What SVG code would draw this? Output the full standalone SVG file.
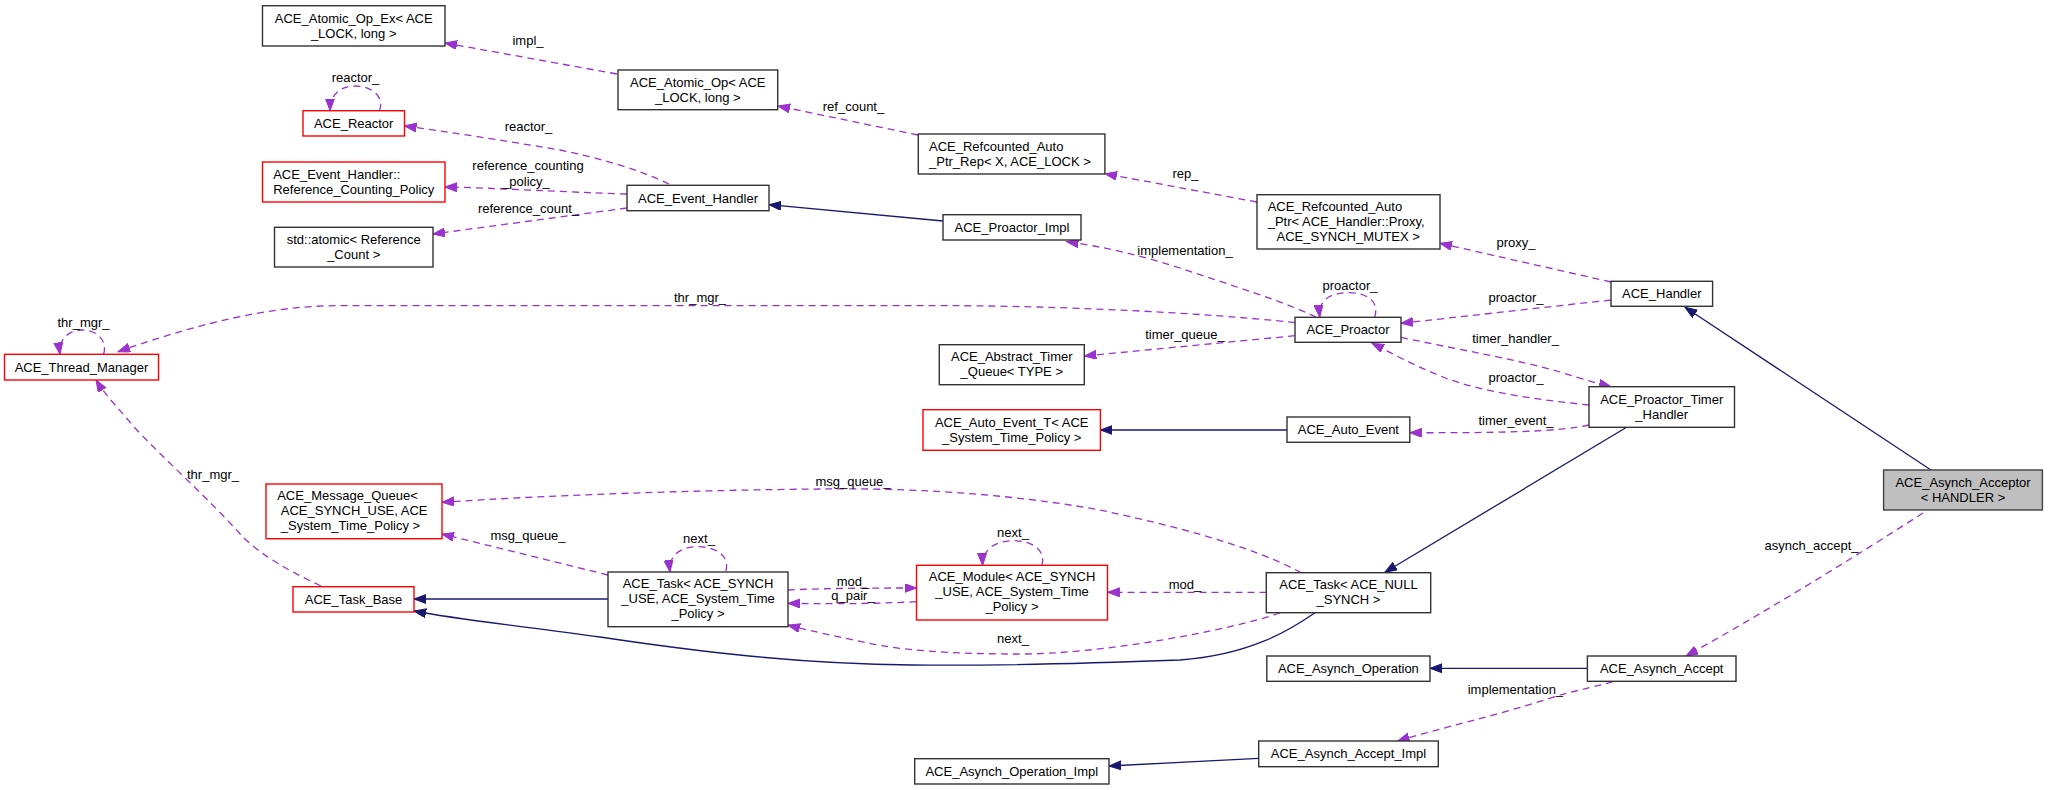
<svg xmlns="http://www.w3.org/2000/svg" width="2048" height="790" viewBox="0 0 2048 790">
<style>
text{font-family:"Liberation Sans",Arial,sans-serif;font-size:13px;fill:#000}
.n rect{fill:#fff;stroke:#333;stroke-width:1.4}
.r rect{fill:#fff;stroke:#ff0000;stroke-width:1.4}
.g rect{fill:#bfbfbf;stroke:#404040;stroke-width:1.4}
.c text{text-anchor:middle}
.l text{text-anchor:start}
.u{fill:none;stroke:#9a32cd;stroke-width:1.3;stroke-dasharray:7,5;marker-end:url(#ap)}
.i{fill:none;stroke:#191970;stroke-width:1.3;marker-end:url(#an)}
.lbl{text-anchor:middle}
</style>
<defs>
<marker id="ap" markerUnits="userSpaceOnUse" markerWidth="13" markerHeight="10" refX="12" refY="4.5" orient="auto"><path d="M0,0 L12,4.5 L0,9 z" fill="#9a32cd" stroke="#9a32cd" stroke-width="1"/></marker>
<marker id="an" markerUnits="userSpaceOnUse" markerWidth="13" markerHeight="10" refX="12" refY="4.5" orient="auto"><path d="M0,0 L12,4.5 L0,9 z" fill="#191970" stroke="#191970" stroke-width="1"/></marker>
</defs>
<rect width="2048" height="790" fill="#fff"/>
<g id="edges">
<path class="u" d="M617,74 L445,43"/>
<path class="u" d="M918,135 L778,106"/>
<path class="u" d="M1257,202 L1105,173.7"/>
<path class="u" d="M1611,282 L1440,243.3"/>
<path class="u" d="M379.5,110.7 C385,95 370,86 355,86 C340,86 330,95 330,110.7"/>
<path class="u" d="M669,184 C640,170 600,158 560,150 C500,140 450,132 404.5,126"/>
<path class="u" d="M627,194 C560,192 500,188 445,187"/>
<path class="u" d="M627,208 L433,234"/>
<path class="i" d="M943,221 L769,204.7"/>
<path class="u" d="M1316,317 C1280,300 1230,285 1180,268 C1140,255 1100,246 1066.5,241.7"/>
<path class="u" d="M1295,322.7 C1200,312 1050,306 957,305.7 L335,305.7 C260,306 180,330 118,351.7"/>
<path class="u" d="M1374.7,317.3 C1380,300 1365,292.7 1349,292.7 C1330,292.7 1318,300 1319.7,317"/>
<path class="u" d="M1295,335.7 L1084.4,356"/>
<path class="u" d="M1611,300 L1401,323.3"/>
<path class="u" d="M1401,337.3 C1460,350 1520,360 1560,372 C1585,380 1600,384 1611,386.7"/>
<path class="u" d="M1589,405 C1540,400 1480,392 1443,377 C1410,364 1390,352 1372,343.3"/>
<path class="u" d="M1589,425 C1560,431 1520,433 1409.8,432.7"/>
<path class="i" d="M1287,430 L1100.4,430"/>
<path class="u" d="M103.6,354.3 C108,340 96,330 82.6,330 C68,330 58,340 60,354.3"/>
<path class="u" d="M321,586 C280,567 255,550 241,535 C210,500 165,460 134,427 C120,410 105,395 96,380"/>
<path class="u" d="M608,575 L442,534"/>
<path class="i" d="M608,599 L414,599"/>
<path class="u" d="M726,571 C730,555 715,546.7 698,546.7 C680,546.7 668,556 670,572"/>
<path class="u" d="M788,590 C830,588 880,588 916.5,588"/>
<path class="u" d="M916.5,601.7 C870,604 830,604 788,603.3"/>
<path class="u" d="M1266.5,592.3 L1107.6,592.3"/>
<path class="u" d="M1301,572.7 C1250,545 1170,525 1100,510 C1000,492 900,488 823,489 C700,490 550,495 442,502.3"/>
<path class="u" d="M1280,613 C1230,630 1100,655 1015,654 C950,654 900,650 868,643 C840,637 810,631 788,625"/>
<path class="u" d="M1042,565.3 C1046,548 1030,540.7 1013,540.7 C995,540.7 982,550 982.6,565.3"/>
<path class="i" d="M1315,612.7 C1290,630 1250,655 1180,660 C1100,663 1000,666 912,665 C800,664 700,652 600,637 C530,627 460,620 414,611"/>
<path class="i" d="M1626.6,427.3 L1384.9,572.3"/>
<path class="i" d="M1931,470 L1685,307.3"/>
<path class="u" d="M1923,513 C1850,560 1760,615 1686,656"/>
<path class="i" d="M1587.4,668.3 L1430,668.3"/>
<path class="u" d="M1613,681.7 C1590,688 1570,692 1560,695 C1500,715 1440,728 1397.6,741"/>
<path class="i" d="M1258.7,758.3 L1109,766"/>
<g class="lbl">
<text x="528" y="45">impl_</text>
<text x="853.5" y="111">ref_count_</text>
<text x="1185.5" y="177.5">rep_</text>
<text x="1516" y="246.5">proxy_</text>
<text x="355.5" y="82">reactor_</text>
<text x="528.5" y="130.5">reactor_</text>
<text x="528" y="170">reference_counting</text>
<text x="526" y="185.5">_policy_</text>
<text x="528.5" y="213">reference_count_</text>
<text x="1185" y="255">implementation_</text>
<text x="700" y="302">thr_mgr_</text>
<text x="1350" y="289.5">proactor_</text>
<text x="1185" y="338.5">timer_queue_</text>
<text x="1516" y="302">proactor_</text>
<text x="1515.5" y="343">timer_handler_</text>
<text x="1516" y="382">proactor_</text>
<text x="1516" y="425">timer_event_</text>
<text x="83.5" y="326.5">thr_mgr_</text>
<text x="213" y="478.5">thr_mgr_</text>
<text x="528" y="539.5">msg_queue_</text>
<text x="699" y="543">next_</text>
<text x="853" y="585.5">mod_</text>
<text x="853" y="599.5">q_pair_</text>
<text x="1185" y="589">mod_</text>
<text x="853" y="486">msg_queue_</text>
<text x="1013" y="643">next_</text>
<text x="1013" y="537">next_</text>
<text x="1811.5" y="550">asynch_accept_</text>
<text x="1515.4" y="693.5">implementation_</text>
</g>
</g>
<g id="n_atomic_op_ex" class="n c"><rect x="262.5" y="5.7" width="182.5" height="40.3"/><text x="353.7" y="22.5">ACE_Atomic_Op_Ex&lt; ACE</text><text x="353.7" y="37.5">_LOCK, long &gt;</text></g>
<g id="n_reactor" class="r c"><rect x="303" y="110.7" width="101.5" height="25.3"/><text x="353.7" y="127.8">ACE_Reactor</text></g>
<g id="n_ref_counting_policy" class="r l"><rect x="262.5" y="162" width="182.5" height="40"/><text x="273.2" y="178.5">ACE_Event_Handler::</text><text x="273.2" y="193.5">Reference_Counting_Policy</text></g>
<g id="n_std_atomic" class="n c"><rect x="274.5" y="227.3" width="158.5" height="39.7"/><text x="353.7" y="243.8">std::atomic&lt; Reference</text><text x="353.7" y="258.8">_Count &gt;</text></g>
<g id="n_thread_manager" class="r c"><rect x="4.5" y="354.3" width="154" height="25.7"/><text x="81.5" y="371.6">ACE_Thread_Manager</text></g>
<g id="n_message_queue" class="r l"><rect x="266" y="484" width="176" height="54.7"/><text x="277.2" y="500">ACE_Message_Queue&lt;</text><text x="280.8" y="515">ACE_SYNCH_USE, ACE</text><text x="280.8" y="530">_System_Time_Policy &gt;</text></g>
<g id="n_task_base" class="r c"><rect x="293" y="586.7" width="121" height="25.3"/><text x="353.5" y="603.8">ACE_Task_Base</text></g>
<g id="n_atomic_op" class="n c"><rect x="618" y="70" width="159.7" height="39.7"/><text x="697.8" y="86.5">ACE_Atomic_Op&lt; ACE</text><text x="697.8" y="101.5">_LOCK, long &gt;</text></g>
<g id="n_event_handler" class="n c"><rect x="627" y="185.3" width="142" height="25.4"/><text x="698" y="202.5">ACE_Event_Handler</text></g>
<g id="n_refcounted_auto_ptr_rep" class="n l"><rect x="918.3" y="134" width="186.6" height="40"/><text x="929" y="150.5">ACE_Refcounted_Auto</text><text x="929" y="165.5">_Ptr_Rep&lt; X, ACE_LOCK &gt;</text></g>
<g id="n_proactor_impl" class="n c"><rect x="943" y="214.7" width="138" height="25.3"/><text x="1012" y="231.8">ACE_Proactor_Impl</text></g>
<g id="n_abstract_timer_queue" class="n c"><rect x="939.3" y="344.7" width="145" height="40"/><text x="1011.8" y="361.2">ACE_Abstract_Timer</text><text x="1011.8" y="376.2">_Queue&lt; TYPE &gt;</text></g>
<g id="n_auto_event_t" class="r c"><rect x="923" y="409.7" width="177.4" height="40.6"/><text x="1011.7" y="426.5">ACE_Auto_Event_T&lt; ACE</text><text x="1011.7" y="441.5">_System_Time_Policy &gt;</text></g>
<g id="n_task_synch" class="n c"><rect x="608" y="572" width="180" height="54.7"/><text x="698" y="588">ACE_Task&lt; ACE_SYNCH</text><text x="698" y="603">_USE, ACE_System_Time</text><text x="698" y="618">_Policy &gt;</text></g>
<g id="n_module" class="r c"><rect x="916.5" y="565.3" width="191" height="54.7"/><text x="1012" y="581.3">ACE_Module&lt; ACE_SYNCH</text><text x="1012" y="596.3">_USE, ACE_System_Time</text><text x="1012" y="611.3">_Policy &gt;</text></g>
<g id="n_asynch_operation_impl" class="n c"><rect x="914.7" y="758.7" width="194.3" height="25.3"/><text x="1011.8" y="775.8">ACE_Asynch_Operation_Impl</text></g>
<g id="n_refcounted_auto_ptr" class="n l"><rect x="1257" y="194.7" width="183" height="54.3"/><text x="1267.7" y="210.7">ACE_Refcounted_Auto</text><text x="1267.7" y="225.7">_Ptr&lt; ACE_Handler::Proxy,</text><text x="1276.5" y="240.7">ACE_SYNCH_MUTEX &gt;</text></g>
<g id="n_handler" class="n c"><rect x="1611" y="281.3" width="101.6" height="25"/><text x="1661.8" y="298.3">ACE_Handler</text></g>
<g id="n_proactor" class="n c"><rect x="1295" y="317.3" width="106" height="25"/><text x="1348" y="334.3">ACE_Proactor</text></g>
<g id="n_proactor_timer_handler" class="n c"><rect x="1589" y="386.7" width="145.5" height="40.6"/><text x="1661.7" y="403.5">ACE_Proactor_Timer</text><text x="1661.7" y="418.5">_Handler</text></g>
<g id="n_auto_event" class="n c"><rect x="1287" y="417" width="122.8" height="25.3"/><text x="1348.4" y="434.1">ACE_Auto_Event</text></g>
<g id="n_asynch_acceptor" class="g c"><rect x="1883.6" y="470" width="158.8" height="40"/><text x="1963" y="486.5">ACE_Asynch_Acceptor</text><text x="1963" y="501.5">&lt; HANDLER &gt;</text></g>
<g id="n_task_null" class="n c"><rect x="1266.3" y="572.7" width="164.4" height="40"/><text x="1348.5" y="589.2">ACE_Task&lt; ACE_NULL</text><text x="1348.5" y="604.2">_SYNCH &gt;</text></g>
<g id="n_asynch_operation" class="n c"><rect x="1266.8" y="656" width="163.2" height="25.3"/><text x="1348.4" y="673.1">ACE_Asynch_Operation</text></g>
<g id="n_asynch_accept" class="n c"><rect x="1587.4" y="656" width="148.6" height="25.3"/><text x="1661.7" y="673.1">ACE_Asynch_Accept</text></g>
<g id="n_asynch_accept_impl" class="n c"><rect x="1258.7" y="741" width="179.6" height="25.7"/><text x="1348.5" y="758.3">ACE_Asynch_Accept_Impl</text></g>
</svg>
